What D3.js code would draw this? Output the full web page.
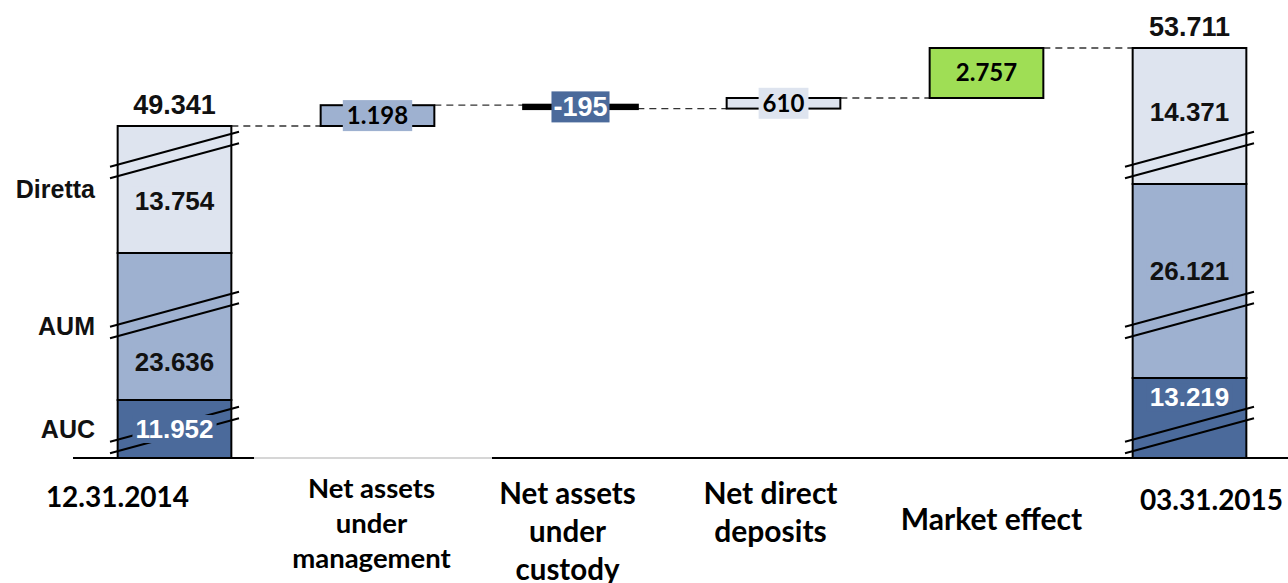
<!DOCTYPE html>
<html>
<head>
<meta charset="utf-8">
<script src="https://cdn.jsdelivr.net/npm/d3@7"></script>
<style>
  body { margin: 0; background: #fff; }
  .arial { font-family: "Liberation Sans", Arial, sans-serif; font-weight: bold; }
  .cal { font-family: Lato, "Open Sans", sans-serif; font-weight: bold; }
</style>
</head>
<body>
<div id="chart"></div>
<script>
// ---- data ----
const categories = ["12.31.2014", "Net assets under management", "Net assets under custody",
  "Net direct deposits", "Market effect", "03.31.2015"];
const catLines = [["12.31.2014"], ["Net assets", "under", "management"], ["Net assets", "under", "custody"],
  ["Net direct", "deposits"], ["Market effect"], ["03.31.2015"]];
const segments = ["AUC", "AUM", "Diretta"];
const start2014 = [11952, 23636, 13754];
const end2015 = [13219, 26121, 14371];
const totals = [49341, 53711];
const steps = [1198, -195, 610, 2757];

// ---- layout ----
const W = 1288, H = 583, baseY = 458;
const colors = { AUC: "#4b6a9b", AUM: "#9eb1d0", Diretta: "#dee4ef" };
const stepFill = [colors.AUM, colors.AUC, colors.Diretta, "#9fde55"];
const stepText = ["#000", "#fff", "#000", "#000"];
// broken axis: pixel stops for each bar's cumulative boundaries
const leftStops = [baseY, 400, 253, 126];
const rightStops = [baseY, 378, 184, 48];
const bridgeStops = [126, 98, 48];
const breakY = [155, 315, 430];
const labelFrac = [[0.5, 0.26, 0.41], [0.76, 0.55, 0.53]];
const catDx = [-57, -6, -13, -13, 5, 22];
const catY = [507, 498, 504, 504, 530, 510];
const catGap = [0, 35, 38, 38, 0, 0];
const catSize = [28, 27.5, 29.5, 30, 30, 28];

const it = d3.formatLocale({ decimal: ",", thousands: ".", grouping: [3], currency: ["", ""], minus: "-" });
const fmt = it.format(",");

const svg = d3.select("#chart").append("svg").attr("width", W).attr("height", H);

const x = d3.scaleBand().domain(categories).range([73, 1291]).paddingInner(0.44).paddingOuter(0.22);
const bw = x.bandwidth();

const cum = a => a.reduce((acc, v) => { acc.push(acc[acc.length - 1] + v); return acc; }, [0]);
const leftY = d3.scaleLinear().domain(cum(start2014)).range(leftStops);
const rightY = d3.scaleLinear().domain(cum(end2015)).range(rightStops);

const levels = [totals[0]];
steps.forEach(s => levels.push(levels[levels.length - 1] + s));
const bridge = d3.scaleLinear().domain([totals[0], levels[3], totals[1]]).range(bridgeStops);

// axis line
svg.append("line").attr("x1", 73).attr("x2", W).attr("y1", baseY).attr("y2", baseY)
  .attr("stroke", "#c8c8c8").attr("stroke-width", 1.5);
[[73, 254], [492, W]].forEach(function(s) {
  svg.append("line").attr("x1", s[0]).attr("x2", s[1]).attr("y1", baseY).attr("y2", baseY)
    .attr("stroke", "#000").attr("stroke-width", 2.2);
});

// dashed connectors
const cats = categories;
for (let i = 0; i < levels.length; i++) {
  svg.append("line")
    .attr("x1", x(cats[i]) + bw).attr("x2", x(cats[i + 1]))
    .attr("y1", bridge(levels[i])).attr("y2", bridge(levels[i]))
    .attr("stroke", "#333").attr("stroke-width", 1.3).attr("stroke-dasharray", "7,5");
}

function labelWithBg(g, txt, cx, cy, cls, size, fill, bg, padX, fixH) {
  const t = g.append("text").attr("class", cls).attr("x", cx).attr("y", cy).attr("dy", "0.35em")
    .attr("text-anchor", "middle").attr("font-size", size).attr("fill", fill).text(txt);
  if (bg) {
    const b = t.node().getBBox();
    const h = fixH || b.height;
    g.insert("rect", function() { return t.node(); })
      .attr("x", b.x - padX).attr("width", b.width + 2 * padX)
      .attr("y", cy - h / 2).attr("height", h).attr("fill", bg);
  }
  return t;
}

// stacked total bars
function stackBar(cat, vals, yScale, fracs, total) {
  const g = svg.append("g");
  const x0 = x(cat), c = cum(vals);
  vals.forEach(function(v, i) {
    g.append("rect").attr("x", x0).attr("width", bw)
      .attr("y", yScale(c[i + 1])).attr("height", yScale(c[i]) - yScale(c[i + 1]))
      .attr("fill", colors[segments[i]]).attr("stroke", "#000").attr("stroke-width", 2);
  });
  // axis break marks
  const cx = x0 + bw / 2;
  breakY.forEach(function(by) {
    [-5.75, 5.75].forEach(function(off) {
      g.append("line").attr("x1", cx - 64.5).attr("x2", cx + 64.5)
        .attr("y1", by + off + 17.5).attr("y2", by + off - 17.5)
        .attr("stroke", "#000").attr("stroke-width", 2);
    });
  });
  vals.forEach(function(v, i) {
    const yb = yScale(c[i]), yt = yScale(c[i + 1]);
    const cy = yb - fracs[i] * (yb - yt);
    labelWithBg(g, fmt(v), cx, cy, "arial", 26, segments[i] === "AUC" ? "#fff" : "#111",
      colors[segments[i]], 3, 28);
  });
  g.append("text").attr("class", "arial").attr("x", cx).attr("y", yScale(c[3]) - 21)
    .attr("dy", "0.35em").attr("text-anchor", "middle").attr("font-size", 27)
    .attr("fill", "#111").text(fmt(total));
  return g;
}
stackBar(cats[0], start2014, leftY, labelFrac[0], totals[0]);
stackBar(cats[5], end2015, rightY, labelFrac[1], totals[1]);

// legend labels, at left bar segment midpoints
const cl = cum(start2014);
segments.forEach(function(s, i) {
  svg.append("text").attr("class", "arial").attr("x", 95)
    .attr("y", (leftY(cl[i]) + leftY(cl[i + 1])) / 2).attr("dy", "0.35em")
    .attr("text-anchor", "end").attr("font-size", 25).attr("fill", "#111").text(s);
});

// step bars
steps.forEach(function(v, i) {
  const cat = cats[i + 1];
  const y0 = bridge(levels[i]), y1 = bridge(levels[i + 1]);
  const top = Math.min(y0, y1), h = Math.abs(y0 - y1);
  const isNeg = v < 0, isMarket = i === 3;
  const g = svg.append("g");
  g.append("rect").attr("x", x(cat)).attr("width", bw).attr("y", top).attr("height", h)
    .attr("fill", isNeg ? "#000" : stepFill[i]).attr("stroke", "#000")
    .attr("stroke-width", isNeg ? 3 : 2);
  labelWithBg(g, fmt(v), x(cat) + bw / 2, top + h / 2, isNeg ? "arial" : "cal",
    isNeg ? 27 : 24, stepText[i], isMarket ? null : stepFill[i], isNeg ? 2 : 4, 31);
});

// category labels
cats.forEach(function(c, i) {
  const t = svg.append("text").attr("class", "cal").attr("text-anchor", "middle")
    .attr("font-size", catSize[i]).attr("fill", "#000");
  catLines[i].forEach(function(line, j) {
    t.append("tspan").attr("x", x(c) + bw / 2 + catDx[i]).attr("y", catY[i] + j * catGap[i]).text(line);
  });
});
</script>
</body>
</html>
